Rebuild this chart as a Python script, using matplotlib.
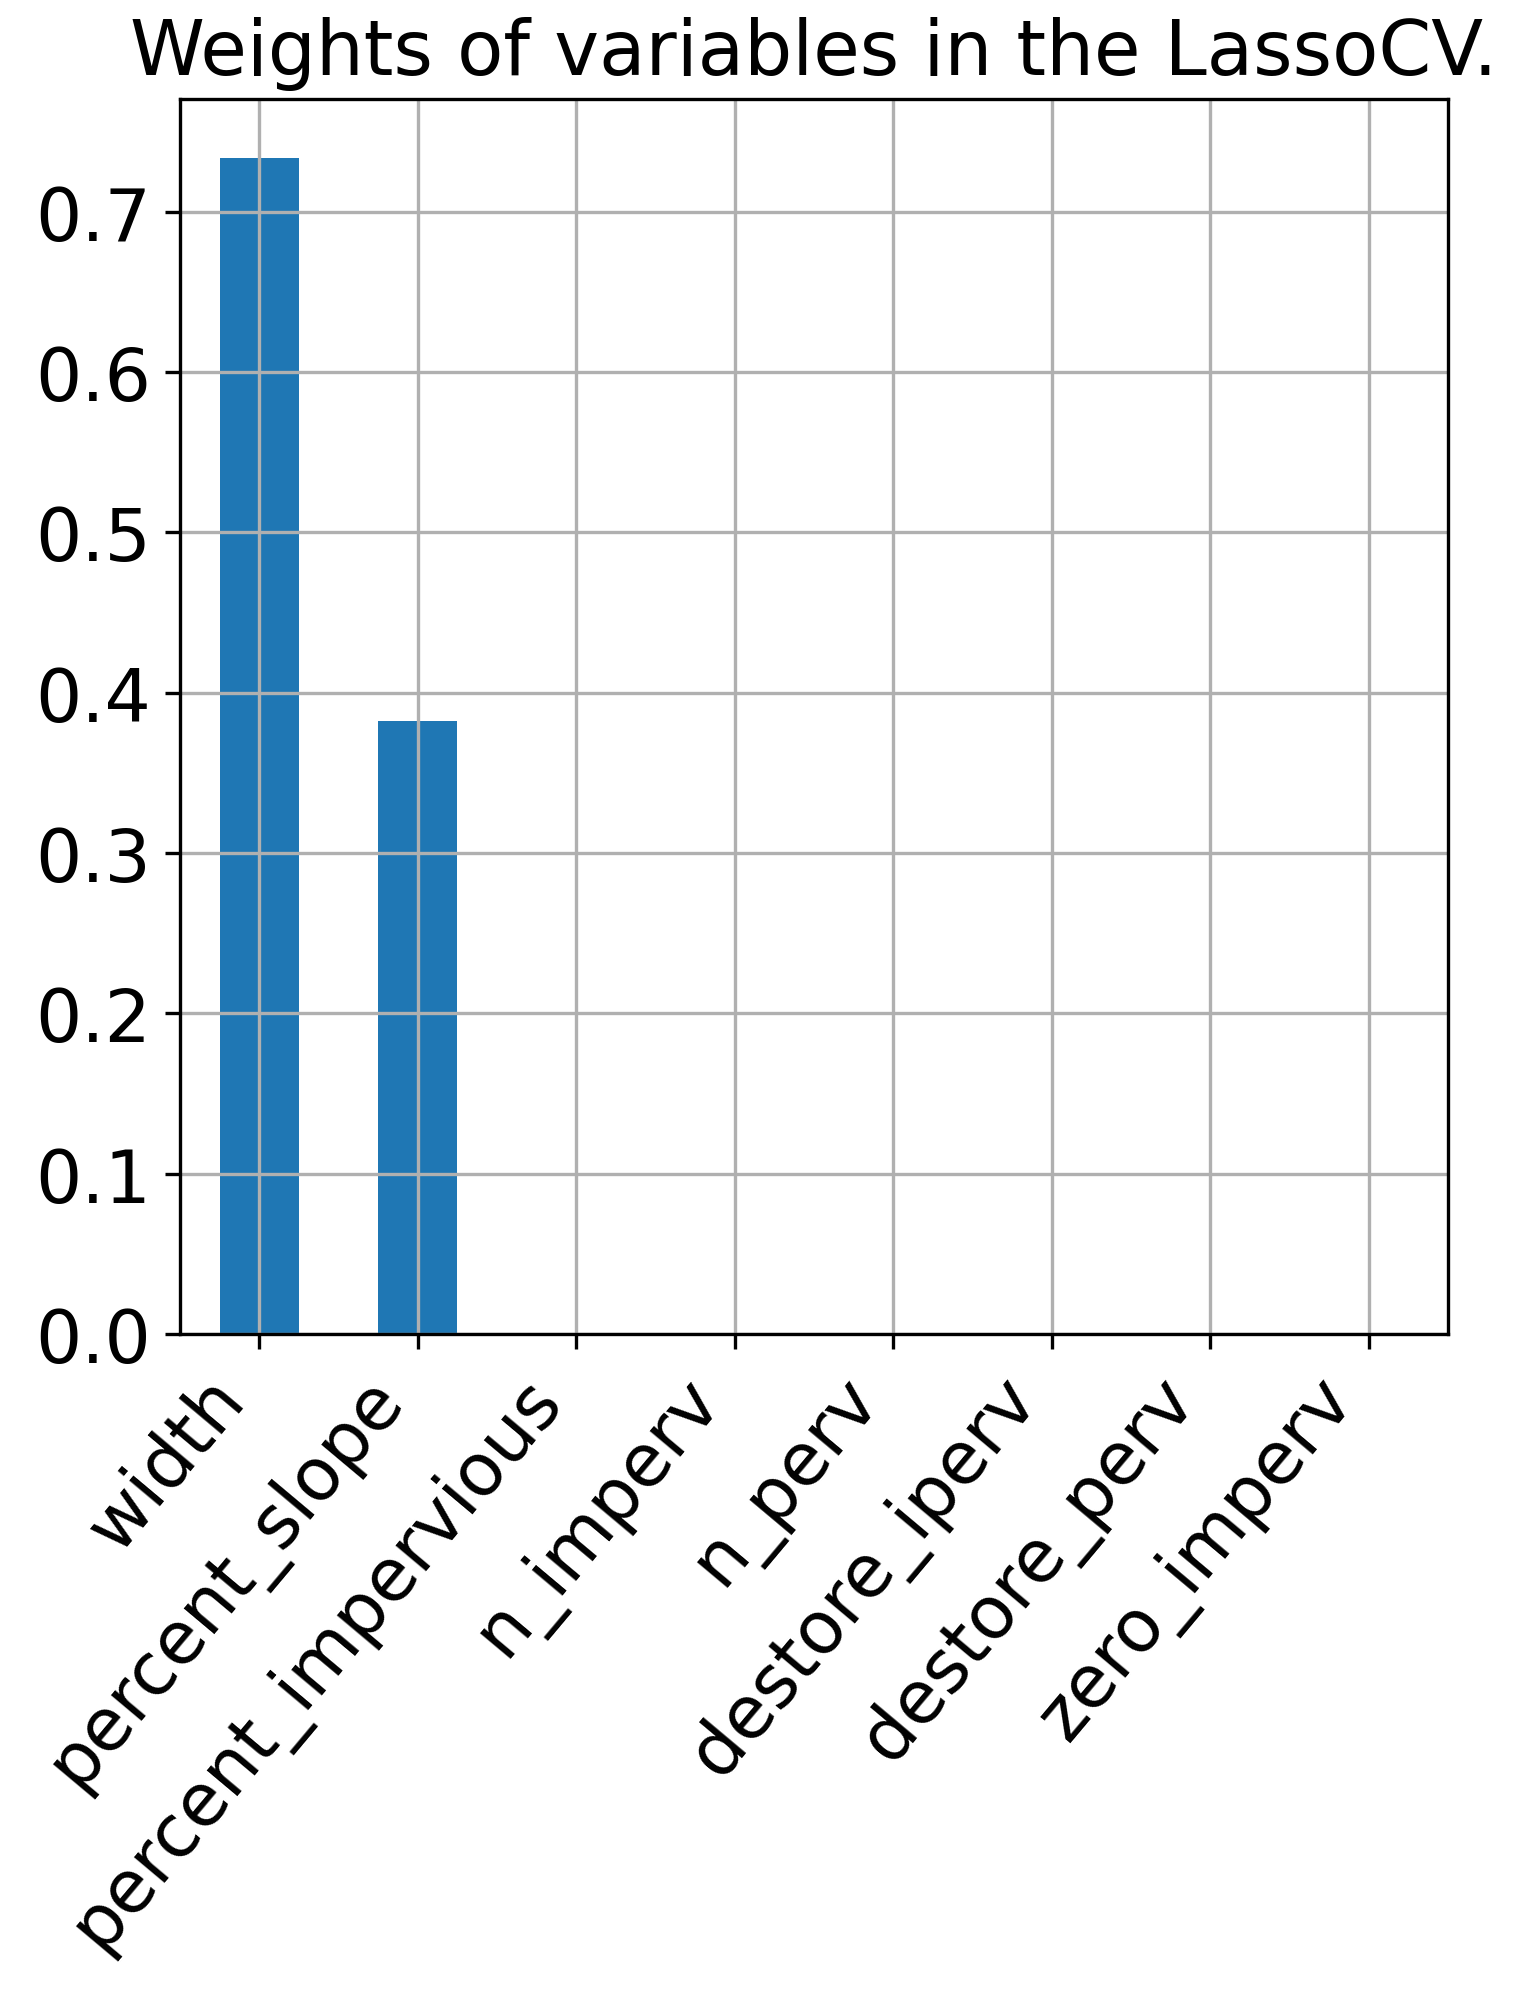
import matplotlib
matplotlib.use("Agg")
import matplotlib.pyplot as plt
import pandas as pd

# LassoCV coefficients
variables = ['width', 'percent_slope', 'percent_impervious', 'n_imperv',
             'n_perv', 'destore_iperv', 'destore_perv', 'zero_imperv']
weights = [0.7337, 0.3827, 0.0, 0.0, 0.0, 0.0, 0.0, 0.0]

coefs = pd.Series(weights, index=variables)

fig = plt.figure(figsize=(5.05, 6.663), dpi=300)
ax = fig.add_axes([0.1188, 0.3322, 0.837, 0.6178])

coefs.plot(kind='bar', ax=ax, color='#1f77b4', grid=True)
ax.set_title('Weights of variables in the LassoCV.', fontsize=18.2)
ax.tick_params(axis='both', labelsize=17.5)
plt.setp(ax.get_xticklabels(), rotation=50, ha='right')

fig.savefig('out.png', dpi=300)
